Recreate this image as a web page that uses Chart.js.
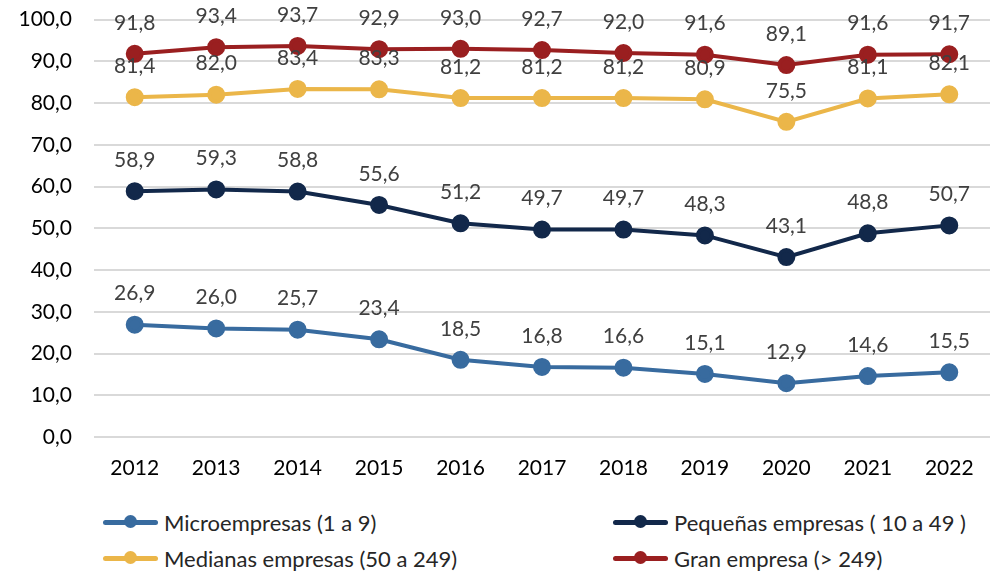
<!DOCTYPE html>
<html>
<head>
<meta charset="utf-8">
<script src="https://cdn.jsdelivr.net/npm/chart.js@4.4.1/dist/chart.umd.min.js"></script>
<style>
  html, body { margin: 0; padding: 0; background: #fff; overflow: hidden; }
  #wrap { position: relative; width: 1001px; height: 573px; overflow: hidden; }
  #c { position: absolute; left: 0; top: -15px; }
  .lg { position: absolute; height: 24px; display: flex; align-items: center;
        font-family: Lato, "Open Sans", sans-serif; font-size: 22px; color: #262626; white-space: nowrap; }
  .lg .ln { position: relative; width: 55px; height: 5px; border-radius: 3px; margin-right: 6px; }
  .lg .dot { position: absolute; left: 21px; top: -4.5px; width: 13px; height: 13px; border-radius: 50%; }
</style>
</head>
<body>
<div id="wrap">
  <canvas id="c" width="1001" height="515"></canvas>
  <div id="legend"></div>
</div>
<script>
const years = ["2012","2013","2014","2015","2016","2017","2018","2019","2020","2021","2022"];
const microValues = [26.9, 26.0, 25.7, 23.4, 18.5, 16.8, 16.6, 15.1, 12.9, 14.6, 15.5];
const pequenasValues = [58.9, 59.3, 58.8, 55.6, 51.2, 49.7, 49.7, 48.3, 43.1, 48.8, 50.7];
const medianasValues = [81.4, 82.0, 83.4, 83.3, 81.2, 81.2, 81.2, 80.9, 75.5, 81.1, 82.1];
const granValues = [91.8, 93.4, 93.7, 92.9, 93.0, 92.7, 92.0, 91.6, 89.1, 91.6, 91.7];
const seriesNames = ["Microempresas (1 a 9)", "Pequeñas empresas ( 10 a 49 )", "Medianas empresas (50 a 249)", "Gran empresa (> 249)"];
const seriesColors = ["#386b9f", "#12284a", "#ebb649", "#9a1f20"];

const FONT = 'Lato, "Open Sans", sans-serif';
const fmt = v => v.toFixed(1).replace('.', ',');

const allValues = [microValues, pequenasValues, medianasValues, granValues];
const datasets = allValues.map((vals, i) => ({
  label: seriesNames[i],
  data: vals,
  borderColor: seriesColors[i],
  backgroundColor: seriesColors[i],
  pointBackgroundColor: seriesColors[i],
  pointBorderColor: seriesColors[i],
  borderWidth: 4,
  pointRadius: 7,
  pointHoverRadius: 7,
  tension: 0
}));

const labelPlugin = {
  id: 'valueLabels',
  afterDatasetsDraw(chart) {
    const ctx = chart.ctx;
    ctx.save();
    ctx.font = '21px ' + FONT;
    ctx.fillStyle = '#404040';
    ctx.textAlign = 'center';
    ctx.textBaseline = 'middle';
    chart.data.datasets.forEach((ds, di) => {
      const meta = chart.getDatasetMeta(di);
      meta.data.forEach((pt, i) => {
        ctx.fillText(fmt(ds.data[i]), pt.x, pt.y - 31);
      });
    });
    ctx.restore();
  }
};

const chart = new Chart(document.getElementById('c'), {
  type: 'line',
  data: { labels: years, datasets },
  options: {
    responsive: false,
    animation: false,
    events: [],
    layout: { padding: { top: 0, right: 1, left: 0, bottom: 0 } },
    plugins: { legend: { display: false }, tooltip: { enabled: false } },
    scales: {
      x: {
        offset: true,
        grid: { display: false, drawTicks: false },
        border: { display: false },
        ticks: { color: '#000', font: { family: FONT, size: 21 }, padding: 19, maxRotation: 0 },
        afterFit: s => { s.height = 63; }
      },
      y: {
        min: 0, max: 100,
        ticks: { stepSize: 10, color: '#000', font: { family: FONT, size: 21 }, padding: 22,
                 callback: v => fmt(v) },
        grid: { color: '#d9d9d9', lineWidth: 2, drawTicks: false },
        border: { display: false },
        afterFit: s => { s.width = 94; }
      }
    }
  },
  plugins: [labelPlugin]
});

// HTML legend built from datasets
const legend = document.getElementById('legend');
const pos = [[103, 510], [613, 510], [103, 546], [613, 546]];
chart.data.datasets.forEach((ds, i) => {
  const d = document.createElement('div');
  d.className = 'lg';
  d.style.left = pos[i][0] + 'px';
  d.style.top = pos[i][1] + 'px';
  d.innerHTML = '<span class="ln" style="background:' + ds.borderColor + '"><span class="dot" style="background:' + ds.borderColor + '"></span></span><span></span>';
  d.lastChild.textContent = ds.label;
  legend.appendChild(d);
});
</script>
</body>
</html>
